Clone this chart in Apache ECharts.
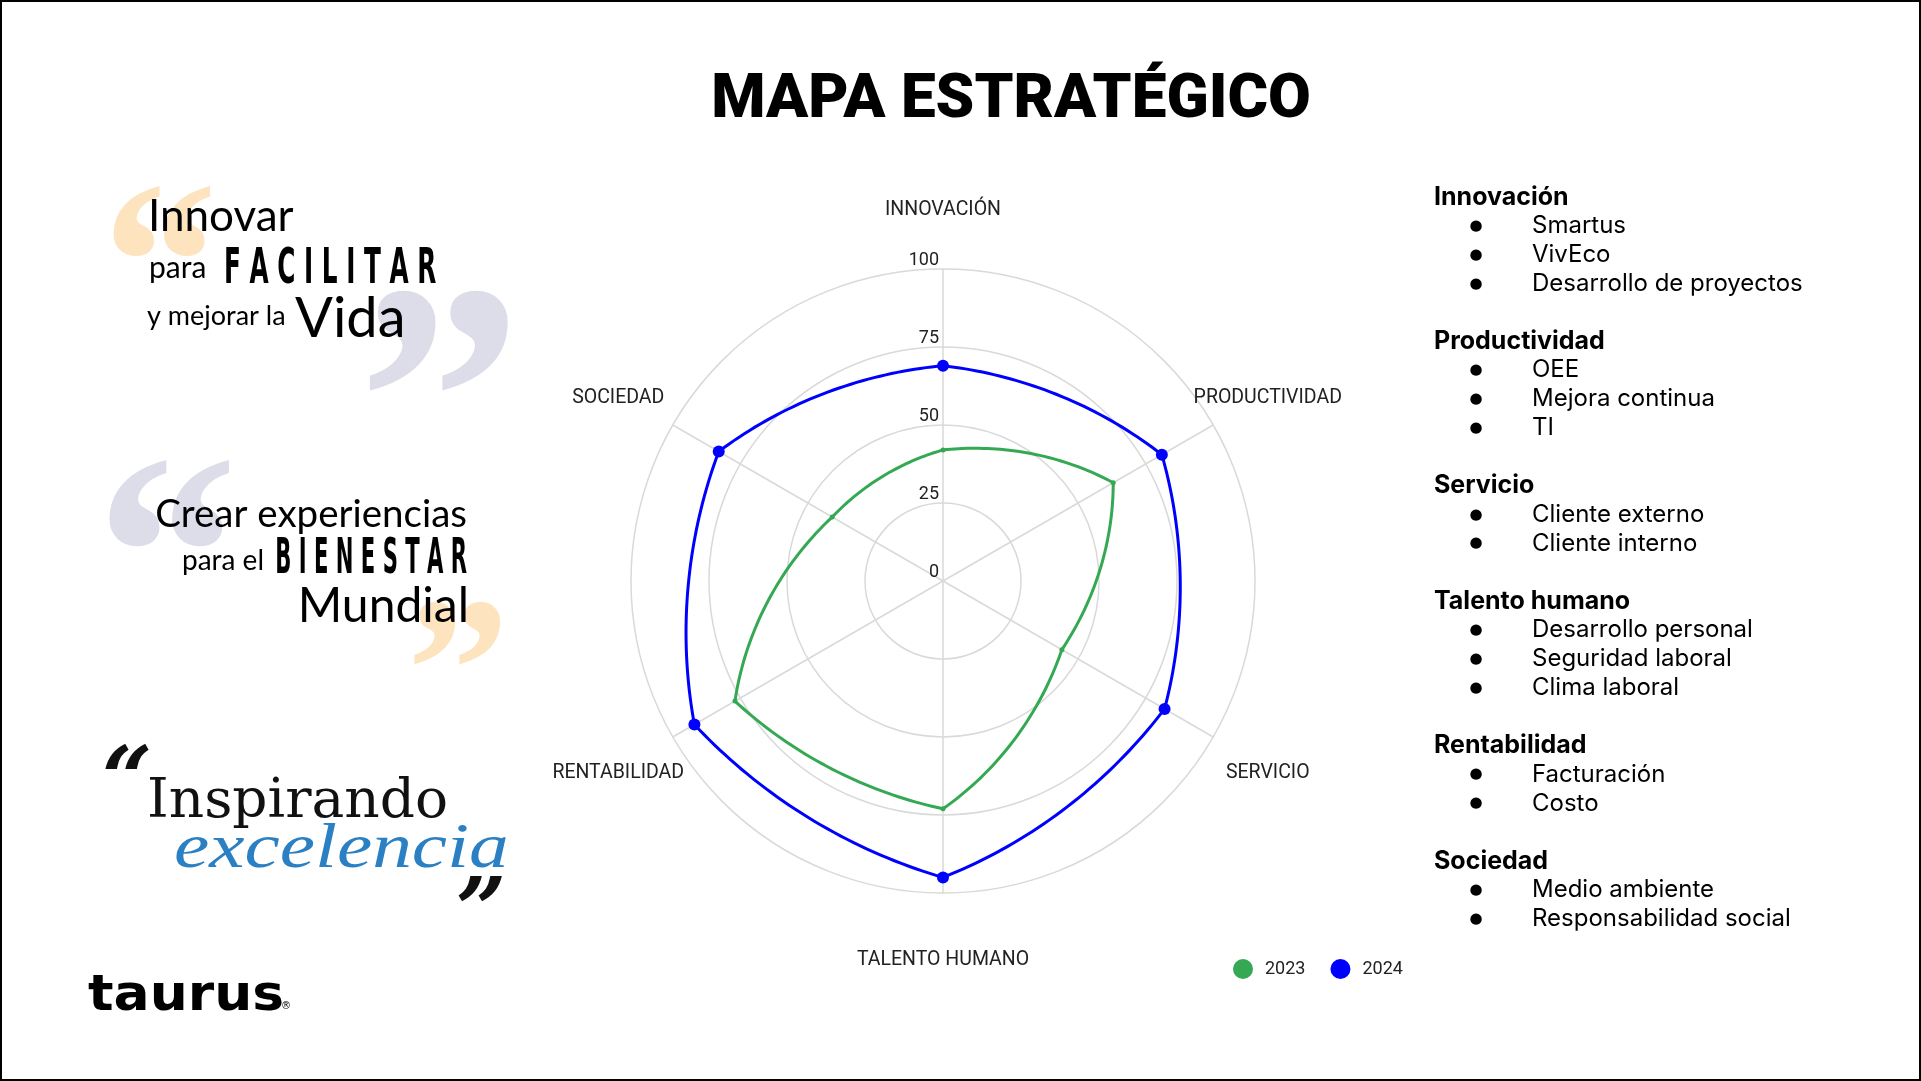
<!DOCTYPE html>
<html>
<head>
<meta charset="utf-8">
<script src="https://cdn.jsdelivr.net/npm/echarts@6/dist/echarts.min.js"></script>
<style>
html,body{margin:0;padding:0;background:#fff;}
#chart{width:1921px;height:1081px;}
</style>
</head>
<body>
<div id="chart"></div>
<script>
// Categories clockwise from the top
const categories = ['INNOVACIÓN', 'PRODUCTIVIDAD', 'SERVICIO', 'TALENTO HUMANO', 'RENTABILIDAD', 'SOCIEDAD'];
const values2023 = [42, 63, 44, 73, 77, 41];
const values2024 = [69, 81, 82, 95, 92, 83];
const seriesNames = ['2023', '2024'];
const axisTicks = [0, 25, 50, 75, 100];

const listHeaders = ['Innovación', 'Productividad', 'Servicio', 'Talento humano', 'Rentabilidad', 'Sociedad'];
const listItems = [
  ['Smartus', 'VivEco', 'Desarrollo de proyectos'],
  ['OEE', 'Mejora continua', 'TI'],
  ['Cliente externo', 'Cliente interno'],
  ['Desarrollo personal', 'Seguridad laboral', 'Clima laboral'],
  ['Facturación', 'Costo'],
  ['Medio ambiente', 'Responsabilidad social']
];

const CX = 943, CY = 581, R = 312;
const GREEN = '#34a853', BLUE = '#0000ff';

// radar draws counter-clockwise from the top
const radarOrder = [0, 5, 4, 3, 2, 1];

const graphics = [];
graphics.push({type:'rect', shape:{x:1, y:1, width:1919, height:1079}, style:{fill:'none', stroke:'#000', lineWidth:2}, z:100});

// right list
let ly = 197;
const LSTEP = 28.88;
listHeaders.forEach((h, gi) => {
  graphics.push({type:'text', x:1434, y:ly, style:{text:h, font:'bold 25px Inter', fill:'#000', align:'left', verticalAlign:'middle'}});
  ly += LSTEP;
  listItems[gi].forEach(it => {
    graphics.push({type:'text', x:1476, y:ly, style:{text:'●', font:'15px "DejaVu Sans"', fill:'#000', align:'center', verticalAlign:'middle'}});
    graphics.push({type:'text', x:1532, y:ly, style:{text:it, font:'24px Inter', fill:'#000', align:'left', verticalAlign:'middle'}});
    ly += LSTEP;
  });
  ly += LSTEP;
});

// left quotes
const ORANGE_Q = '#fde3be', LAV_Q = '#dcdde9';
function t(text, x, y, font, fill, align, extra) {
  const el = {type:'text', x:x, y:y, style:{text:text, font:font, fill:fill, align:align || 'left', verticalAlign:'middle'}};
  if (extra) Object.assign(el, extra);
  graphics.push(el);
}
// quote 1
t('“', 160, 281, 'bold 230px "Liberation Serif"', ORANGE_Q, 'center', {z:1});
t('”', 440, 425, 'bold 330px "Liberation Serif"', LAV_Q, 'center', {z:1});
t('Innovar', 148, 217, '44px Lato', '#000', 'left', {z:5});
t('para', 149, 268, '30px Lato', '#000', 'left', {z:5});
t('F A C I L I T A R', 224, 270, 'bold 50px "DejaVu Sans Condensed"', '#000', 'left', {z:5, scaleX:0.55});
t('y mejorar la', 147, 316, '27px Lato', '#000', 'left', {z:5});
t('Vida', 295, 319, '56px Lato', '#000', 'left', {z:5});
// quote 2
t('“', 167, 576, 'bold 285px "Liberation Serif"', LAV_Q, 'center', {z:1});
t('”', 458, 686, 'bold 205px "Liberation Serif"', ORANGE_Q, 'center', {z:1});
t('Crear experiencias', 467, 515, '38.5px Lato', '#000', 'right', {z:5});
t('para el', 264, 561, '28px Lato', '#000', 'right', {z:5});
t('B I E N E S T A R', 467, 560, 'bold 50px "DejaVu Sans Condensed"', '#000', 'right', {z:5, scaleX:0.47});
t('Mundial', 469, 607, '48px Lato', '#000', 'right', {z:5});
// quote 3
t('“', 127, 786, 'bold italic 88px "DejaVu Serif"', '#111', 'center');
t('Inspirando', 147, 803, '55px "DejaVu Serif"', '#111', 'left');
t('excelencia', 174, 850, 'italic 64px "Liberation Serif"', '#2a80c3', 'left', {scaleX:1.24});
t('”', 481, 917, 'bold italic 88px "DejaVu Serif"', '#111', 'center');
// logo
t('taurus', 88, 997, 'bold 50px "DejaVu Sans"', '#000', 'left', {scaleX:1.07});
t('®', 281, 1006, '10px "DejaVu Sans"', '#000', 'left');

// closed outline; each segment bends halfway between the straight chord and the polar path
function radarLine(name, values, color, symbolSize, z) {
  const STEPS = 40, BEND = 0.5;
  return {
    type: 'custom', name: name, coordinateSystem: 'polar', z: z,
    data: values.map((v, i) => [v, i]),
    encode: {radius: 0, angle: 1},
    itemStyle: {color: color},
    renderItem: function (params, api) {
      const c = api.coord([0, 0]);
      const pix = values.map((v, i) => api.coord([v, i]));
      const own = pix[params.dataIndex];
      const children = [];
      if (params.dataIndex === 0) {
        const pol = pix.map(p => {
          const dx = p[0] - c[0], dy = p[1] - c[1];
          return [Math.sqrt(dx * dx + dy * dy), Math.atan2(-dy, dx)];
        });
        const pts = [];
        const n = pol.length;
        for (let i = 0; i < n; i++) {
          const p0 = pol[i], p1 = pol[(i + 1) % n];
          const q0 = pix[i], q1 = pix[(i + 1) % n];
          let da = p1[1] - p0[1];
          while (da > Math.PI) da -= 2 * Math.PI;
          while (da <= -Math.PI) da += 2 * Math.PI;
          for (let k = 0; k < STEPS; k++) {
            const f = k / STEPS;
            const r = p0[0] + (p1[0] - p0[0]) * f;
            const a = p0[1] + da * f;
            const sx = c[0] + r * Math.cos(a), sy = c[1] - r * Math.sin(a);
            const lx = q0[0] + (q1[0] - q0[0]) * f, ly2 = q0[1] + (q1[1] - q0[1]) * f;
            pts.push([lx + (sx - lx) * BEND, ly2 + (sy - ly2) * BEND]);
          }
        }
        children.push({type: 'polygon', shape: {points: pts},
          style: {fill: 'none', stroke: color, lineWidth: 3, lineJoin: 'round'}, z2: 0});
      }
      children.push({type: 'circle', shape: {cx: own[0], cy: own[1], r: symbolSize / 2},
        style: {fill: color}, z2: 1});
      return {type: 'group', children: children};
    }
  };
}

const option = {
  animation: false,
  backgroundColor: '#ffffff',
  title: {
    text: 'MAPA ESTRATÉGICO', left: 1006, top: 65, textAlign: 'center',
    textStyle: {fontSize: 62, fontWeight: 900, fontFamily: 'Roboto', color: '#000'}
  },
  legend: {
    data: seriesNames, left: 1228, top: 954, icon: 'circle',
    itemWidth: 26, itemHeight: 20, itemGap: 25,
    textStyle: {fontSize: 18, color: '#222', fontFamily: 'Roboto', padding: [0, 0, 0, 4]}
  },
  radar: {
    center: [CX, CY], radius: R, shape: 'circle', startAngle: 90, splitNumber: axisTicks.length - 1,
    indicator: radarOrder.map((ci, k) => {
      const ind = {name: categories[ci], min: axisTicks[0], max: axisTicks[axisTicks.length - 1]};
      if (k === 0) ind.axisLabel = {show: true};
      return ind;
    }),
    nameGap: 63,
    axisName: {
      color: '#222', fontSize: 19.5, fontFamily: 'Roboto', align: 'center', verticalAlign: 'middle',
      formatter: function (v) { return '{a|' + v + '}'; },
      rich: {a: {color: '#222', fontSize: 19.5, fontFamily: 'Roboto', padding: [9, 0, 0, 0]}}
    },
    axisLine: {lineStyle: {color: '#d9d9d9', width: 1.5}},
    splitLine: {lineStyle: {color: '#d9d9d9', width: 1.5}},
    splitArea: {show: false},
    axisTick: {show: false},
    axisLabel: {show: false, color: '#222', fontSize: 18, fontFamily: 'Roboto', margin: 4, verticalAlign: 'bottom'}
  },
  polar: {center: [CX, CY], radius: R},
  angleAxis: {type: 'category', data: categories, boundaryGap: false, startAngle: 90, clockwise: true, show: false},
  radiusAxis: {type: 'value', min: axisTicks[0], max: axisTicks[axisTicks.length - 1], show: false},
  series: [
    radarLine(seriesNames[0], values2023, GREEN, 5, 3),
    radarLine(seriesNames[1], values2024, BLUE, 12, 4)
  ],
  graphic: graphics
};

const chart = echarts.init(document.getElementById('chart'));
chart.setOption(option);
</script>
</body>
</html>
